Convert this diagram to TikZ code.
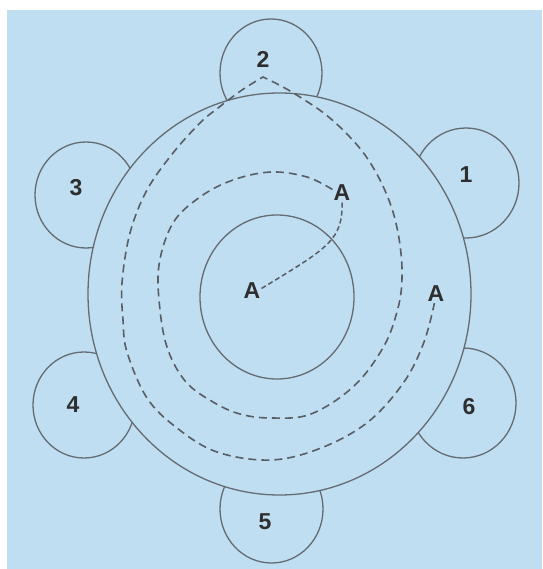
\documentclass[tikz,border=0pt]{standalone}
\usepackage{fontspec}
\setmainfont{Liberation Sans}
\definecolor{bg}{RGB}{192,222,242}
\definecolor{ln}{RGB}{100,107,113}
\definecolor{dl}{RGB}{88,94,100}
\begin{document}
\begin{tikzpicture}[x=1pt,y=-1pt,
  solidline/.style={draw=ln, line width=1.3pt},
  spiral/.style={draw=dl, line width=1.6pt, dash pattern=on 8pt off 5pt},
  fine/.style={draw=dl, line width=1.5pt, dash pattern=on 5pt off 3pt},
  num/.style={font=\bfseries\fontsize{23}{27}\selectfont, text=black!82, inner sep=1pt},
]
\useasboundingbox (0,0) rectangle (542,569);
\fill[white] (0,0) rectangle (542,569);
\fill[bg] (7,10) rectangle (542,569);
% satellite circles
\filldraw[solidline, fill=bg] (466,183) ellipse [x radius=53pt, y radius=55pt];
\filldraw[solidline, fill=bg] (271,73) ellipse [x radius=51pt, y radius=54pt];
\filldraw[solidline, fill=bg] (86,195) ellipse [x radius=51pt, y radius=53pt];
\filldraw[solidline, fill=bg] (84,405) ellipse [x radius=51pt, y radius=53pt];
\filldraw[solidline, fill=bg] (271.5,509) ellipse [x radius=51.5pt, y radius=54pt];
\filldraw[solidline, fill=bg] (463,403) ellipse [x radius=53pt, y radius=55pt];
% big circle and inner circle
\filldraw[solidline, fill=bg] (279.5,294) ellipse [x radius=191.5pt, y radius=201pt];
\draw[solidline] (277,297) ellipse [x radius=77pt, y radius=82pt];
% labels
\node[num] (n1) at (466,175) {1};
\node[num] (n2) at (263,59) {2};
\node[num] (n3) at (76,188) {3};
\node[num] (n4) at (73,405) {4};
\node[num] (n5) at (265,522) {5};
\node[num] (n6) at (469,407) {6};
\node[num] (A) at (252,291) {A};
\node[num] (A1) at (342,193) {A};
\node[num] (A2) at (436,294) {A};
% dashed connectors
\draw[fine] (A.15) .. controls (328,248) and (343,240) .. (A1.south);
\draw[spiral] plot[smooth, tension=0.6] coordinates {(A1.160) (307,177) (271,172) (233,180) (200,197) (173,223) (159,265) (160,310) (168,350) (186,382) (213,402) (240,414) (271,418) (311,414) (354,386) (384,346) (398,308) (402,278) (400,245) (393,212) (381,182) (365,155) (346,133) (325,114) (303,99) (283,87) (263,77)}
  -- plot[smooth, tension=0.6] coordinates {(263,77) (242,90) (218,108) (200,123) (173,153) (147,190) (130,233) (122,283) (123,320) (127,352) (147,398) (177,428) (217,452) (271,460) (321,448) (368,422) (404,382) (424,342) (A2.-100)};
\end{tikzpicture}
\end{document}
